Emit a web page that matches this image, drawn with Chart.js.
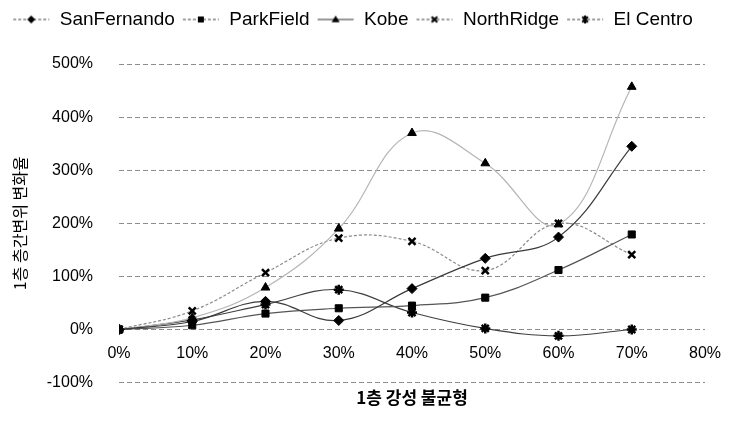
<!DOCTYPE html>
<html>
<head>
<meta charset="utf-8">
<script src="https://cdn.jsdelivr.net/npm/chart.js@4.4.1/dist/chart.umd.min.js"></script>
<style>
    html, body { margin: 0; padding: 0; background: #fff; }
    #wrap { width: 740px; height: 445px; }
</style>
</head>
<body>
<div id="wrap"><canvas id="driftChart" width="740" height="445"></canvas></div>
<script>
// --- DATA ---
const stiffnessRatio = [0, 10, 20, 30, 40, 50, 60, 70];
const sanFernando = [0, 15, 53, 17, 77, 134, 174, 345];
const parkField = [0, 8, 30, 40, 45, 60, 112, 179];
const kobe = [0, 22, 79, 190, 370, 313, 198, 457];
const northRidge = [0, 35, 107, 172, 166, 111, 200, 141];
const elCentro = [0, 18, 47, 75, 32, 2, -12, 0];
const xTicks = [0, 10, 20, 30, 40, 50, 60, 70, 80];
const yTicks = [-100, 0, 100, 200, 300, 400, 500];

const seriesNames = ['SanFernando', 'ParkField', 'Kobe', 'NorthRidge', 'El Centro'];
const seriesValues = [sanFernando, parkField, kobe, northRidge, elCentro];
const markers = ['rectRot', 'rect', 'triangle', 'crossRot', 'star'];
const lineColors = ['#3a3a3a', '#555555', '#b5b5b5', '#8a8a8a', '#404040'];
const lineDashes = [[], [], [], [3, 2], []];

const LATIN = '"Liberation Sans", Arial, sans-serif';
const KOREAN = '"Noto Sans CJK KR", "Liberation Sans", sans-serif';

// --- LEGEND ICONS (line + marker like the excel legend) ---
function drawMarker(ctx, style, x, y, r) {
    ctx.fillStyle = '#000';
    ctx.strokeStyle = '#000';
    ctx.lineWidth = 2;
    ctx.beginPath();
    if (style === 'rectRot') {
        ctx.moveTo(x, y - r); ctx.lineTo(x + r, y); ctx.lineTo(x, y + r); ctx.lineTo(x - r, y);
        ctx.closePath(); ctx.fill();
    } else if (style === 'rect') {
        ctx.fillRect(x - r * 0.75, y - r * 0.75, r * 1.5, r * 1.5);
    } else if (style === 'triangle') {
        ctx.moveTo(x, y - r); ctx.lineTo(x + r, y + r * 0.7); ctx.lineTo(x - r, y + r * 0.7);
        ctx.closePath(); ctx.fill();
    } else if (style === 'crossRot') {
        ctx.moveTo(x - r * 0.7, y - r * 0.7); ctx.lineTo(x + r * 0.7, y + r * 0.7);
        ctx.moveTo(x + r * 0.7, y - r * 0.7); ctx.lineTo(x - r * 0.7, y + r * 0.7);
        ctx.stroke();
    } else {
        ctx.moveTo(x - r * 0.7, y - r * 0.7); ctx.lineTo(x + r * 0.7, y + r * 0.7);
        ctx.moveTo(x + r * 0.7, y - r * 0.7); ctx.lineTo(x - r * 0.7, y + r * 0.7);
        ctx.moveTo(x, y - r); ctx.lineTo(x, y + r);
        ctx.stroke();
    }
}

const legendIcons = markers.map((style, i) => {
    const c = document.createElement('canvas');
    c.width = 40;
    c.height = 14;
    const g = c.getContext('2d');
    g.strokeStyle = i === 2 ? '#333' : '#444';
    g.lineWidth = 1.2;
    g.setLineDash(i === 2 ? [] : [3, 2]);
    g.beginPath();
    g.moveTo(2, 7); g.lineTo(38, 7);
    g.stroke();
    g.setLineDash([]);
    drawMarker(g, style, 20, 7, 4);
    return c;
});

// --- DATASETS ---
const datasets = seriesNames.map((name, i) => ({
    label: name,
    data: stiffnessRatio.map((x, j) => ({ x: x, y: seriesValues[i][j] })),
    borderColor: lineColors[i],
    borderWidth: 1.2,
    borderDash: lineDashes[i],
    tension: 0.4,
    pointStyle: markers[i],
    pointRadius: 5,
    pointBackgroundColor: '#000',
    pointBorderColor: '#000',
    pointBorderWidth: (markers[i] === 'crossRot' || markers[i] === 'star') ? 2.5 : 1,
    fill: false,
}));

// make the legend box taller so the plot starts lower
const legendSpace = {
    id: 'legendSpace',
    beforeInit(chart) {
        const fit = chart.legend.fit;
        chart.legend.fit = function () {
            fit.bind(chart.legend)();
            this.height = 61;
        };
    }
};

const ctx = document.getElementById('driftChart').getContext('2d');
new Chart(ctx, {
    type: 'line',
    data: { datasets: datasets },
    plugins: [legendSpace],
    options: {
        responsive: false,
        animation: false,
        layout: { padding: { left: 0, right: 35, top: 3, bottom: 37 } },
        plugins: {
            tooltip: { enabled: false },
            legend: {
                position: 'top',
                labels: {
                    color: '#000',
                    font: { family: LATIN, size: 19 },
                    padding: 7,
                    usePointStyle: true,
                    pointStyleWidth: 38,
                    generateLabels: function (chart) {
                        const items = Chart.defaults.plugins.legend.labels.generateLabels(chart);
                        items.forEach((item, i) => { item.pointStyle = legendIcons[i]; });
                        return items;
                    }
                }
            }
        },
        scales: {
            x: {
                type: 'linear',
                position: { y: 0 },
                min: 0,
                max: 80,
                afterBuildTicks: (s) => { s.ticks = xTicks.map(v => ({ value: v })); },
                grid: { display: false, drawTicks: false },
                border: { display: false },
                ticks: {
                    color: '#000',
                    padding: 14,
                    font: { family: LATIN, size: 16 },
                    callback: (v) => v + '%'
                }
            },
            xTitle: {
                type: 'linear',
                position: 'bottom',
                min: 0,
                max: 80,
                grid: { display: false, drawTicks: false },
                border: { display: false },
                ticks: { display: false },
                title: {
                    display: true,
                    text: '1층 강성 불균형',
                    color: '#000',
                    font: { family: KOREAN, size: 17, weight: 'bold' },
                    padding: { top: 5, bottom: 0 }
                }
            },
            y: {
                min: -100,
                max: 500,
                afterBuildTicks: (s) => { s.ticks = yTicks.map(v => ({ value: v })); },
                afterFit: (s) => { s.width = 119; },
                grid: { color: '#8c8c8c', lineWidth: 1, drawTicks: false },
                border: { display: false, dash: [5, 3] },
                ticks: {
                    color: '#000',
                    padding: 26,
                    font: { family: LATIN, size: 16 },
                    callback: (v) => v + '%'
                },
                title: {
                    display: true,
                    text: '1층 층간변위 변화율',
                    color: '#000',
                    font: { family: KOREAN, size: 16 },
                    padding: { top: 10, bottom: 4 }
                }
            }
        }
    }
});
</script>
</body>
</html>
